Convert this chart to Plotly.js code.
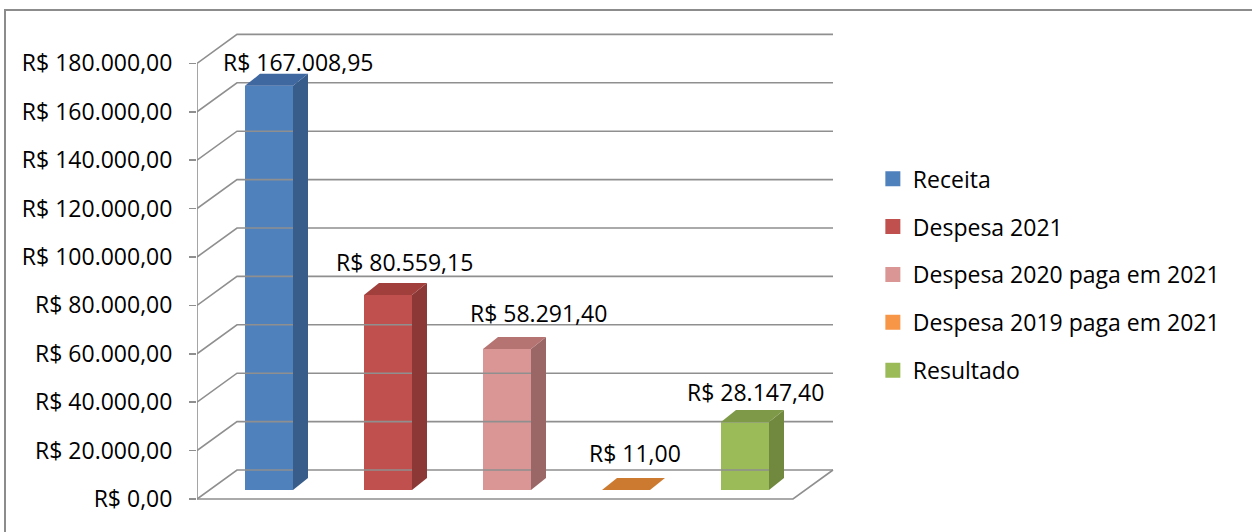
<!DOCTYPE html>
<html>
<head>
<meta charset="utf-8">
<script src="https://cdn.plot.ly/plotly-3.0.1.min.js"></script>
<style>
  html, body { margin: 0; padding: 0; background: #ffffff; }
  #chart { width: 1252px; height: 532px; }
</style>
</head>
<body>
<div id="chart"></div>
<script>
// ---- data ----
const categories = ['Receita', 'Despesa 2021', 'Despesa 2020 paga em 2021', 'Despesa 2019 paga em 2021', 'Resultado'];
const values = [167008.95, 80559.15, 58291.40, 11.00, 28147.40];
const valueLabels = ['R$ 167.008,95', 'R$ 80.559,15', 'R$ 58.291,40', 'R$ 11,00', 'R$ 28.147,40'];
const tickValues = [0, 20000, 40000, 60000, 80000, 100000, 120000, 140000, 160000, 180000];
const tickLabels = ['R$ 0,00', 'R$ 20.000,00', 'R$ 40.000,00', 'R$ 60.000,00', 'R$ 80.000,00',
                    'R$ 100.000,00', 'R$ 120.000,00', 'R$ 140.000,00', 'R$ 160.000,00', 'R$ 180.000,00'];

// ---- styles ----
const frontColors = ['#4F81BD', '#C0504D', '#D99694', '#F79646', '#9BBB59'];
const sideColors  = ['#385D8A', '#8C3836', '#9B6766', '#B36A2F', '#71893F'];
const topColors   = ['#3F67A0', '#A13F3D', '#B57472', '#CC7A30', '#7E9A48'];
const legendColors = ['#4F81BD', '#C0504D', '#D99694', '#F79646', '#9BBB59'];
const labelShiftX = [29, 16, 31, 9, 10];
const labelShiftY = [24, 33, 36, 37, 30];

const FONT = '"Open Sans", "Liberation Sans", sans-serif';
const GRID = '#8F8F8F';

// geometry (in data units)
const pxPerUnitY = 0.00242;
const pxPerCat = 119;
const X_MIN = (197 - 269) / pxPerCat;     // front axis position
const X_MAX = (850 - 269) / pxPerCat;
const Y_MIN = (499 - 510) / pxPerUnitY;
const Y_MAX = (499 - 20) / pxPerUnitY;
const DX = 40 / pxPerCat;                 // full depth offset x
const DY = 29 / pxPerUnitY;               // full depth offset y
const BACK_RIGHT = (833 - 269) / pxPerCat;
const FRONT_RIGHT = BACK_RIGHT - DX;
const BAR_BASE = 9 / pxPerUnitY;          // bar front plane offset
const BAR_W = 48 / pxPerCat;
const BAR_DX = 15 / pxPerCat;
const BAR_DY = 12 / pxPerUnitY;
const TOP_TICK = tickValues[tickValues.length - 1];

const traces = [];

// wall / floor lines
const gx = [], gy = [];
tickValues.forEach(v => {
  gx.push(X_MIN, X_MIN + DX, BACK_RIGHT, null);
  gy.push(v, v + DY, v + DY, null);
});
gx.push(X_MIN, FRONT_RIGHT, BACK_RIGHT, null);
gy.push(0, 0, DY, null);
gx.push(X_MIN, X_MIN, null);
gy.push(0, TOP_TICK, null);
traces.push({
  type: 'scatter', mode: 'lines', x: gx, y: gy,
  line: { color: GRID, width: 1.6 }, hoverinfo: 'skip', showlegend: false, cliponaxis: false
});

// front faces (bars)
categories.forEach((c, i) => {
  traces.push({
    type: 'bar', name: c, x: [i], y: [values[i]], base: [BAR_BASE], width: BAR_W,
    marker: { color: frontColors[i], line: { width: 0 } },
    showlegend: false, hoverinfo: 'skip'
  });
});

// side and top faces
categories.forEach((c, i) => {
  const v = values[i];
  const xl = i - BAR_W / 2, xr = i + BAR_W / 2;
  const yb = BAR_BASE, yt = BAR_BASE + v;
  traces.push({
    type: 'scatter', mode: 'lines', fill: 'toself', fillcolor: sideColors[i],
    x: [xr, xr + BAR_DX, xr + BAR_DX, xr, xr],
    y: [yb, yb + BAR_DY, yt + BAR_DY, yt, yb],
    line: { width: 0, color: sideColors[i] }, hoverinfo: 'skip', showlegend: false
  });
  traces.push({
    type: 'scatter', mode: 'lines', fill: 'toself', fillcolor: topColors[i],
    x: [xl, xr, xr + BAR_DX, xl + BAR_DX, xl],
    y: [yt, yt, yt + BAR_DY, yt + BAR_DY, yt],
    line: { width: 0, color: topColors[i] }, hoverinfo: 'skip', showlegend: false
  });
});

// legend entries
categories.forEach((c, i) => {
  traces.push({
    type: 'scatter', mode: 'markers', name: c, x: [null], y: [null],
    marker: { color: legendColors[i], symbol: 'square', size: 15, line: { width: 0 } },
    legendgroup: 'L' + i, showlegend: true, hoverinfo: 'skip'
  });
});

const annotations = categories.map((c, i) => ({
  x: i, y: BAR_BASE + values[i], xref: 'x', yref: 'y',
  text: valueLabels[i], showarrow: false,
  xanchor: 'center', yanchor: 'middle',
  xshift: labelShiftX[i], yshift: labelShiftY[i],
  font: { family: FONT, size: 23, color: '#000000' }
}));

const layout = {
  width: 1252, height: 532,
  margin: { l: 197, r: 402, t: 20, b: 22 },
  paper_bgcolor: '#ffffff', plot_bgcolor: 'rgba(0,0,0,0)',
  barmode: 'overlay',
  showlegend: true,
  font: { family: FONT, size: 23, color: '#000000' },
  xaxis: {
    range: [X_MIN, X_MAX], showgrid: false, zeroline: false, showline: false,
    showticklabels: false, ticks: '', fixedrange: true
  },
  yaxis: {
    range: [Y_MIN, Y_MAX], showgrid: false, zeroline: false, showline: false,
    tickmode: 'array', tickvals: tickValues, ticktext: tickLabels,
    ticks: 'outside', ticklen: 7, tickwidth: 1.6, tickcolor: GRID,
    ticklabelstandoff: 12,
    tickfont: { family: FONT, size: 23, color: '#000000' }, fixedrange: true
  },
  legend: {
    x: 1.035, xanchor: 'left', y: 0.72, yanchor: 'top',
    font: { family: FONT, size: 23, color: '#000000' },
    bgcolor: 'rgba(0,0,0,0)', borderwidth: 0,
    tracegroupgap: 15, traceorder: 'grouped', itemclick: false, itemdoubleclick: false
  },
  shapes: [{
    type: 'rect', xref: 'paper', yref: 'paper',
    x0: (5 - 197) / 653, x1: (1300 - 197) / 653,
    y0: (510 - 560) / 490, y1: (510 - 10) / 490,
    line: { color: '#8C8C8C', width: 2 }, fillcolor: 'rgba(0,0,0,0)', layer: 'below'
  }],
  annotations: annotations
};

Plotly.newPlot('chart', traces, layout, { displayModeBar: false, staticPlot: true });
</script>
</body>
</html>
